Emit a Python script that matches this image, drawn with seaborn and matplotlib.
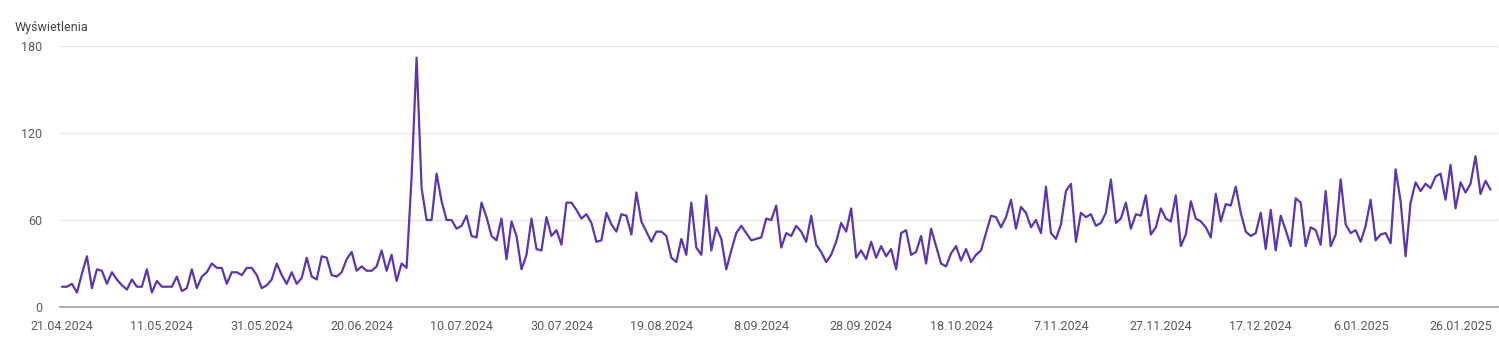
import pandas as pd
import numpy as np
import matplotlib
matplotlib.use("Agg")
import matplotlib.pyplot as plt
import matplotlib.dates as mdates
import seaborn as sns

start_date = "2024-04-21"
apr = [14, 14, 16, 10, 23, 35, 13, 26, 25, 16]
may = [24, 19, 15, 12, 19, 14, 14, 26, 10, 18, 14, 14, 14, 21, 11, 13, 26,
       13, 21, 24, 30, 27, 27, 16, 24, 24, 22, 27, 27, 22, 13]
jun = [15, 19, 30, 22, 16, 24, 16, 20, 34, 21, 19, 35, 34, 22, 21, 24, 33, 38,
       25, 28, 25, 25, 28, 39, 25, 36, 18, 30, 27, 90]
jul = [172, 82, 60, 60, 92, 73, 60, 60, 54, 56, 63, 49, 48, 72, 62, 49, 46, 61,
       33, 59, 49, 26, 36, 61, 40, 39, 62, 49, 53, 43, 72]
aug = [72, 67, 61, 64, 58, 45, 46, 65, 57, 52, 64, 63, 50, 79, 59, 52, 45, 52,
       52, 49, 34, 31, 47, 36, 72, 41, 36, 77, 39, 55, 47]
sep = [26, 39, 51, 56, 51, 46, 47, 48, 61, 60, 70, 41, 51, 49, 56, 52, 45, 63,
       43, 38, 31, 36, 45, 58, 52, 68, 34, 39, 33, 45]
oct_ = [34, 42, 35, 40, 26, 51, 53, 36, 38, 49, 30, 54, 42, 30, 28, 37, 42, 32,
        40, 31, 36, 39, 51, 63, 62, 55, 62, 74, 54, 69, 65]
nov = [55, 60, 51, 83, 51, 47, 57, 80, 85, 45, 65, 62, 64, 56, 58, 65, 88, 58,
       61, 72, 54, 64, 63, 77, 50, 55, 68, 61, 59, 77]
dec = [42, 50, 73, 61, 59, 55, 48, 78, 59, 71, 70, 83, 65, 52, 49, 51, 65, 40,
       67, 39, 63, 53, 42, 75, 72, 42, 55, 53, 43, 80, 42]
jan = [50, 88, 57, 51, 53, 45, 56, 74, 46, 50, 51, 44, 95, 73, 35, 72, 86, 80,
       85, 82, 90, 92, 74, 98, 68, 86, 79, 85, 104, 78, 87]
feb = [81]

y_ticks = [0, 60, 120, 180]
y_label = "Wyświetlenia"

values = apr + may + jun + jul + aug + sep + oct_ + nov + dec + jan + feb
dates = pd.date_range(start_date, periods=len(values), freq="D")
df = pd.DataFrame({"data": dates, "wyswietlenia": values})

sns.set_theme(style="white")
plt.rcParams["font.family"] = ["Roboto", "DejaVu Sans"]

fig = plt.figure(figsize=(14.99, 3.57), dpi=100)
ax = fig.add_axes([0.040, 0.140, 0.959, 0.731])

sns.lineplot(data=df, x="data", y="wyswietlenia", ax=ax, color="#5e35b1",
             linewidth=1.6, clip_on=False)

ax.set_ylim(0, 180)
ax.set_yticks(y_ticks)
ax.set_xlim(dates[0] - pd.Timedelta(days=0.4), dates[0] + pd.Timedelta(days=287.4))

tick_dates = pd.date_range(start_date, periods=15, freq="20D")
ax.set_xticks(tick_dates)
ax.set_xticklabels([f"{d.day}.{d.month:02d}.{d.year}" for d in tick_dates])

ax.grid(axis="y", color="#e6e6e6", linewidth=0.9)
ax.grid(axis="x", visible=False)
for s in ["top", "right", "left"]:
    ax.spines[s].set_visible(False)
ax.spines["bottom"].set_color("#9e9e9e")
ax.spines["bottom"].set_linewidth(1.2)

ax.tick_params(axis="y", length=0, pad=13, labelsize=9, labelcolor="#5a5a5a")
ax.tick_params(axis="x", length=0, pad=9, labelsize=9, labelcolor="#5a5a5a")
ax.set_xlabel("")
ax.set_ylabel("")

fig.text(15 / 1499, 1 - 28 / 357, y_label, fontsize=9, color="#444444",
         ha="left", va="center")

fig.savefig("out.png", dpi=100, facecolor="white")
